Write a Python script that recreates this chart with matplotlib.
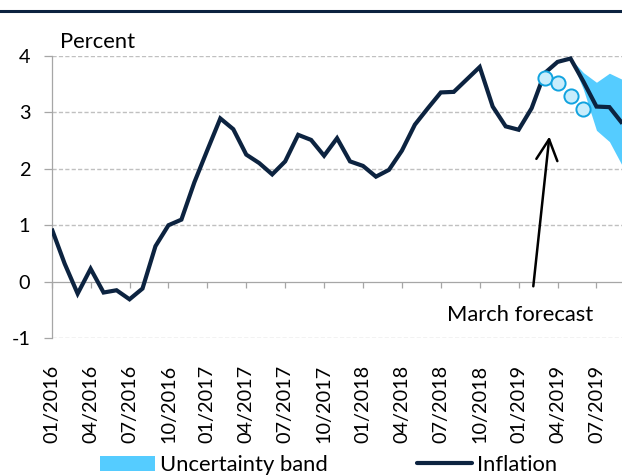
import matplotlib
matplotlib.use("Agg")
import matplotlib.pyplot as plt
import numpy as np
import pandas as pd
from matplotlib.lines import Line2D

plt.rcParams['font.family'] = ['Lato', 'DejaVu Sans']

# ---- data ----
months = [d.strftime('%m/%Y') for d in pd.date_range('2016-01-01', periods=45, freq='MS')]
inflation = [0.94, 0.32, -0.21, 0.23, -0.19, -0.15, -0.31, -0.12, 0.63, 1.00,
             1.10, 1.76, 2.33, 2.89, 2.70, 2.25, 2.10, 1.90, 2.13, 2.60,
             2.51, 2.23, 2.54, 2.13, 2.05, 1.86, 1.98, 2.32, 2.78, 3.07,
             3.35, 3.36, 3.58, 3.80, 3.10, 2.75, 2.69, 3.07, 3.69, 3.89,
             3.95, 3.54, 3.10, 3.09, 2.80]
band_months = ['05/2019', '06/2019', '07/2019', '08/2019', '09/2019']
band_lower = [3.95, 3.40, 2.68, 2.48, 2.05]
band_upper = [3.95, 3.70, 3.53, 3.69, 3.58]
forecast_months = ['03/2019', '04/2019', '05/2019', '06/2019']
march_forecast = [3.60, 3.51, 3.28, 3.06]
tick_labels = months[0::3]

idx = {m: i for i, m in enumerate(months)}
x = np.arange(len(months))
xb = [idx[m] for m in band_months]
xf = [idx[m] for m in forecast_months]

NAVY = '#0c2340'
BAND = '#55ccff'
GRAY = '#a6a6a6'
FS = 15.8
FS_TICK = 14.3

W, H = 622, 475
fig = plt.figure(figsize=(W / 100, H / 100), dpi=100)
ax = fig.add_axes([51.7 / W, 1 - 338.3 / H, (622.4 - 51.7) / W, (338.3 - 55.7) / H])

band = ax.fill_between(xb, band_lower, band_upper, color=BAND, lw=0, zorder=2,
                       label='Uncertainty band')
line, = ax.plot(x, inflation, color=NAVY, lw=3.0, zorder=3, label='Inflation',
                solid_joinstyle='miter', solid_capstyle='butt')
ax.plot(xf, march_forecast, ls='none', marker='o', ms=10.2, mfc='#c8edfc',
        mec='#11a3df', mew=1.4, zorder=4)

ax.set_xlim(0, len(months) - 1)
ax.set_ylim(-1, 4)

# grid
for v in [-1, 1, 2, 3, 4]:
    ax.axhline(v, color='#c0c0c0', lw=1.0, ls=(0, (3, 1.6)), zorder=1)

for s in ['top', 'right']:
    ax.spines[s].set_visible(False)
ax.spines['left'].set_color(GRAY)
ax.spines['left'].set_linewidth(0.9)
ax.spines['bottom'].set_position(('data', 0))
ax.spines['bottom'].set_color(GRAY)
ax.spines['bottom'].set_linewidth(0.9)

ax.set_yticks([-1, 0, 1, 2, 3, 4])
ax.set_yticklabels(['-1', '0', '1', '2', '3', '4'])
ax.tick_params(axis='y', length=5.5, width=0.9, color=GRAY, pad=10.0,
               labelsize=FS_TICK, labelcolor='black')
ax.set_xticks(x[0::3])
ax.tick_params(axis='x', length=4.5, width=0.9, color=GRAY, labelbottom=False,
               direction='out')

sec = ax.secondary_xaxis('bottom')
sec.set_xticks(x[0::3])
sec.set_xticklabels(tick_labels, rotation=90, fontsize=FS_TICK)
sec.tick_params(length=0, pad=19)
sec.spines['bottom'].set_visible(False)

# annotation
ax.annotate('', xy=(38.37, 2.57), xytext=(37.13, -0.08),
            arrowprops=dict(arrowstyle='->,head_length=0.75,head_width=0.38',
                            lw=1.8, color='black', mutation_scale=20,
                            shrinkA=0, shrinkB=0), zorder=5)
ax.text(36.15, -0.70, 'March forecast', ha='center', va='baseline', fontsize=FS)

fig.text(60 / W, 1 - 48 / H, 'Percent', ha='left', va='baseline', fontsize=FS)

# top rule
fig.add_artist(Line2D([0, 1], [1 - 11 / H, 1 - 11 / H], color=NAVY, lw=2.2,
                      transform=fig.transFigure))

leg_line = Line2D([], [], color=NAVY, lw=3.0, solid_capstyle='round')
fig.legend([band, leg_line], ['Uncertainty band', 'Inflation'], ncol=2,
           loc='center left', bbox_to_anchor=(100 / W, 1 - 465 / H),
           frameon=False, fontsize=FS, borderpad=0, borderaxespad=0,
           handlelength=2.5, handleheight=0.7, handletextpad=0.22,
           columnspacing=4.1)

fig.savefig('out.png', dpi=100)
